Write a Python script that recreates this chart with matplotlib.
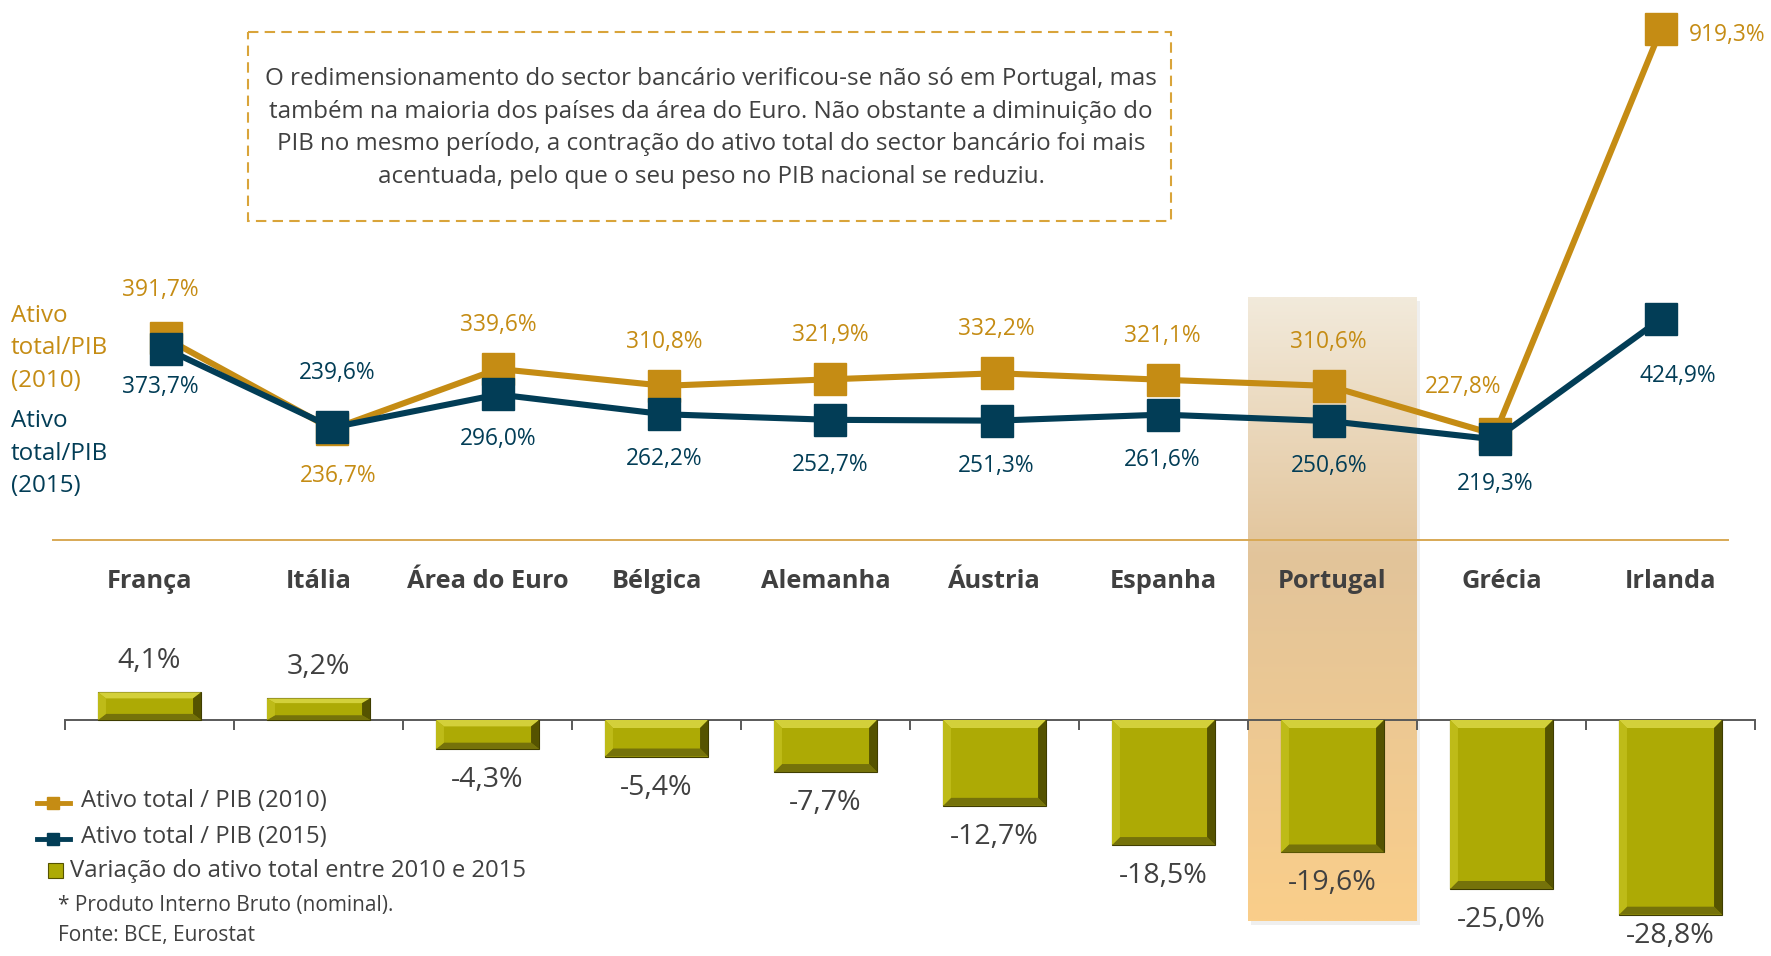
import numpy as np
import matplotlib.pyplot as plt
from matplotlib.patches import Polygon, Rectangle
from matplotlib.lines import Line2D

plt.rcParams['font.family'] = ['Open Sans', 'DejaVu Sans']

# dados
paises = ['França', 'Itália', 'Área do Euro', 'Bélgica', 'Alemanha',
          'Áustria', 'Espanha', 'Portugal', 'Grécia', 'Irlanda']
ativo_2010 = [391.7, 236.7, 339.6, 310.8, 321.9, 332.2, 321.1, 310.6, 227.8, 919.3]
ativo_2015 = [373.7, 239.6, 296.0, 262.2, 252.7, 251.3, 261.6, 250.6, 219.3, 424.9]
variacao = [4.1, 3.2, -4.3, -5.4, -7.7, -12.7, -18.5, -19.6, -25.0, -28.8]
destaque = 'Portugal'

texto_caixa = [
    'O redimensionamento do sector bancário verificou-se não só em Portugal, mas',
    'também na maioria dos países da área do Euro. Não obstante a diminuição do',
    'PIB no mesmo período, a contração do ativo total do sector bancário foi mais',
    'acentuada, pelo que o seu peso no PIB nacional se reduziu.',
]
legenda = ['Ativo total / PIB (2010)', 'Ativo total / PIB (2015)',
           'Variação do ativo total entre 2010 e 2015']
notas = ['* Produto Interno Bruto (nominal).', 'Fonte: BCE, Eurostat']

LARANJA = '#C58C14'
AZUL = '#023D56'
CINZA = '#404040'
OLIVA = '#ADAA05'

W, H = 1771, 956
fig = plt.figure(figsize=(W / 100, H / 100), dpi=100)


def fmt(v):
    return ('%.1f%%' % v).replace('.', ',')


# fundo em pixeis (caixa de texto, legenda, rotulos)
ax_bg = fig.add_axes([0, 0, 1, 1], zorder=0)
ax_bg.set_xlim(0, W)
ax_bg.set_ylim(H, 0)
ax_bg.axis('off')

# barras
base_y = 720.0
px_pct = 6.76
ax_bar = fig.add_axes([65 / W, 0, 1690 / W, 1], zorder=1)
ax_bar.patch.set_visible(False)
for s in ['top', 'right', 'left']:
    ax_bar.spines[s].set_visible(False)
ax_bar.spines['bottom'].set_position(('data', 0))
ax_bar.spines['bottom'].set_color('#595959')
ax_bar.spines['bottom'].set_linewidth(1.4)
ax_bar.set_yticks([])
ax_bar.set_xticks(np.arange(-0.5, 10, 1))
ax_bar.tick_params(axis='x', direction='out', length=7, width=1.4,
                   color='#595959', labelbottom=False)

x = np.arange(len(paises))
y_min = -(H - base_y) / px_pct

# destaque de Portugal
i_pt = paises.index(destaque)
grad = np.array([[242, 234, 219], [226, 196, 154], [250, 206, 138]]) / 255
t = np.linspace(0, 1, 200)
cores = np.empty((200, 1, 3))
for c in range(3):
    cores[:, 0, c] = np.interp(t, [0, 0.42, 1], grad[:, c])
y_top = (base_y - 297) / px_pct
y_bot = -(921 - base_y) / px_pct
ax_bar.add_patch(Rectangle((i_pt - 0.5 + 0.02, y_bot - 0.6), 1, y_top - y_bot,
                           color='#999999', alpha=0.15, lw=0, zorder=0))
ax_bar.imshow(cores, extent=[i_pt - 0.5, i_pt + 0.5, y_bot, y_top],
              aspect='auto', zorder=0.5, interpolation='bilinear')
ax_bar.set_xlim(-0.5, 9.5)
ax_bar.set_ylim(y_min, base_y / px_pct)

# linha separadora
ax_bar.axhline((base_y - 540) / px_pct, xmin=-0.007, xmax=0.984,
               color='#D8A955', lw=1.4, zorder=1, clip_on=False)

barras = ax_bar.bar(x, variacao, width=0.61, color=OLIVA,
                    edgecolor='#3E3C00', linewidth=0.8, zorder=3)

# chanfro das barras
bx = 8 / 169
for b in barras:
    x0, x1 = b.get_x(), b.get_x() + b.get_width()
    y0, y1 = sorted([b.get_y(), b.get_y() + b.get_height()])
    by = min(8, abs(y1 - y0) * px_pct * 0.22) / px_pct
    faces = [
        ([(x0, y1), (x1, y1), (x1 - bx, y1 - by), (x0 + bx, y1 - by)], '#D3D03A'),
        ([(x0, y0), (x1, y0), (x1 - bx, y0 + by), (x0 + bx, y0 + by)], '#75720A'),
        ([(x0, y0), (x0, y1), (x0 + bx, y1 - by), (x0 + bx, y0 + by)], '#BEBB18'),
        ([(x1, y0), (x1, y1), (x1 - bx, y1 - by), (x1 - bx, y0 + by)], '#555300'),
    ]
    for pts, cor in faces:
        ax_bar.add_patch(Polygon(pts, closed=True, color=cor, lw=0, zorder=4))

for xi, v in zip(x, variacao):
    dy = 31 / px_pct
    ty = v + dy if v > 0 else max(v - dy, y_min + 20 / px_pct)
    ax_bar.text(xi, ty, fmt(v), ha='center', va='center',
                fontsize=20.5, color=CINZA, zorder=5)

for xi, nome in zip(x, paises):
    ax_bar.text(xi, (base_y - 581) / px_pct, nome, ha='center', va='center',
                fontsize=18.3, fontweight='bold', color=CINZA, zorder=5)

# linhas
zero_y = 567.8
px_un = 0.5856
ax_lin = fig.add_axes([83 / W, 1 - zero_y / H, 1661 / W, zero_y / H], zorder=2)
ax_lin.patch.set_visible(False)
ax_lin.axis('off')
ax_lin.set_xlim(-0.5, 9.5)
ax_lin.set_ylim(0, zero_y / px_un)
ax_lin.plot(x, ativo_2010, color=LARANJA, lw=4.4, marker='s', ms=23.5,
            mec=LARANJA, zorder=3)
ax_lin.plot(x, ativo_2015, color=AZUL, lw=4.4, marker='s', ms=23.5,
            mec=AZUL, zorder=4)

off_2010 = {0: (-6, 48), 1: (6, -47), 8: (-32, 47), 9: (66, -6)}
off_2015 = {0: (-6, -38), 1: (5, 54), 9: (17, -57)}
for i, v in enumerate(ativo_2010):
    ax_lin.annotate(fmt(v), (i, v), xytext=off_2010.get(i, (0, 44)),
                    textcoords='offset pixels', ha='center', va='center',
                    fontsize=16.4, color=LARANJA, annotation_clip=False)
for i, v in enumerate(ativo_2015):
    ax_lin.annotate(fmt(v), (i, v), xytext=off_2015.get(i, (0, -45)),
                    textcoords='offset pixels', ha='center', va='center',
                    fontsize=16.4, color=AZUL, annotation_clip=False)

# rotulos das series a esquerda
for j, txt in enumerate(['Ativo', 'total/PIB', '(2010)']):
    ax_bg.text(11, 316 + j * 32.5, txt, ha='left', va='center',
               fontsize=17.4, color=LARANJA)
for j, txt in enumerate(['Ativo', 'total/PIB', '(2015)']):
    ax_bg.text(11, 421 + j * 32.5, txt, ha='left', va='center',
               fontsize=17.4, color=AZUL)

# caixa de texto
ax_bg.add_patch(Rectangle((248, 32), 923, 189, fill=False, ec='#D9A43A',
                          lw=1.5, ls=(0, (5, 3))))
for j, linha in enumerate(texto_caixa):
    ax_bg.text(711, 79 + j * 32.7, linha, ha='center', va='center',
               fontsize=17.4, color=CINZA)

# legenda
for yy, cor, txt in [(803, LARANJA, legenda[0]), (839, AZUL, legenda[1])]:
    ax_bg.add_line(Line2D([37, 70], [yy, yy], color=cor, lw=3.5))
    ax_bg.plot([53.5], [yy], marker='s', ms=9, color=cor)
    ax_bg.text(81, yy - 2, txt, ha='left', va='center', fontsize=17.2, color=CINZA)
ax_bg.add_patch(Rectangle((48, 863), 15, 15, color=OLIVA, ec='#555300', lw=0.8))
ax_bg.text(70, 871, legenda[2], ha='left', va='center', fontsize=17.2, color=CINZA)
ax_bg.text(58, 905, notas[0], ha='left', va='center', fontsize=15, color=CINZA)
ax_bg.text(58, 935, notas[1], ha='left', va='center', fontsize=15, color=CINZA)

fig.savefig('out.png', dpi=100)
